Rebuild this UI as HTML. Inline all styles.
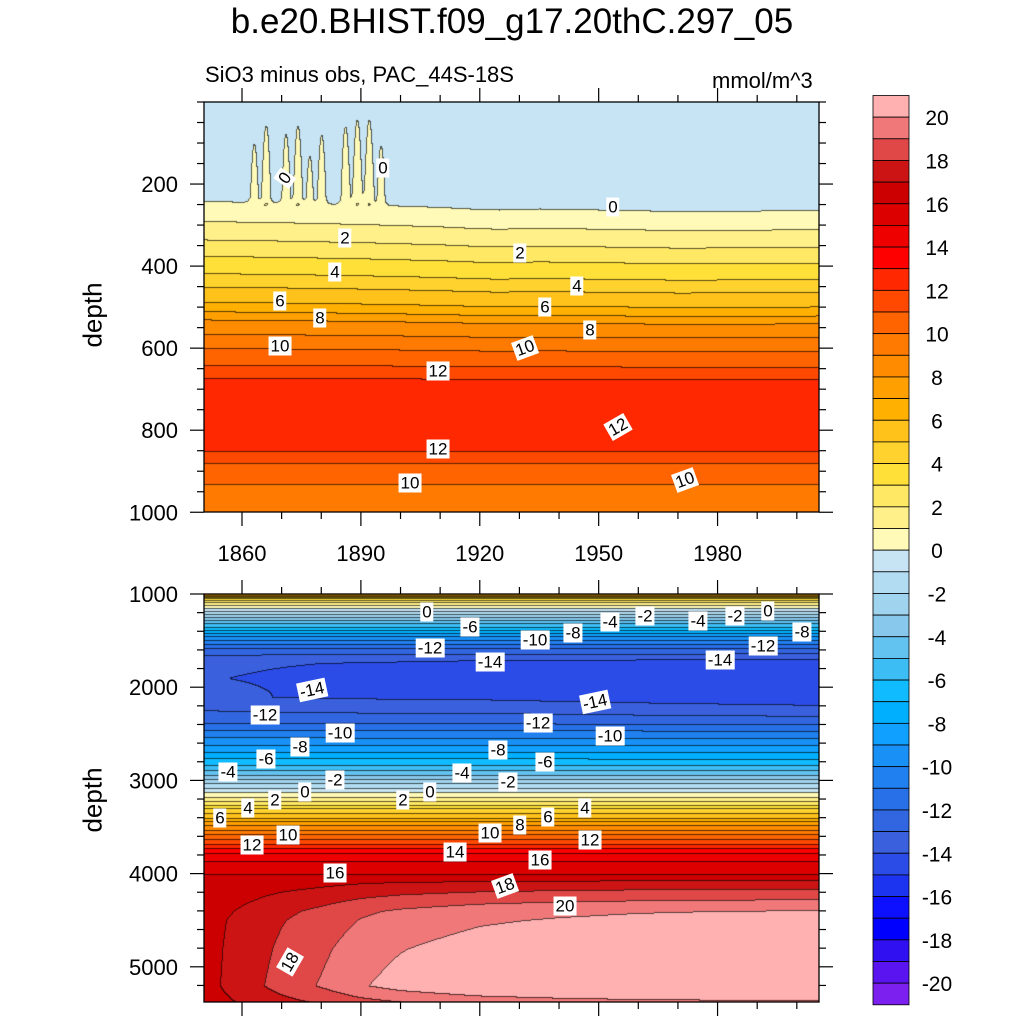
<!DOCTYPE html>
<html><head><meta charset="utf-8"><title>b.e20.BHIST.f09_g17.20thC.297_05</title>
<style>
html,body{margin:0;padding:0;background:#fff;}
#root{position:relative;width:1024px;height:1024px;overflow:hidden;font-family:"Liberation Sans",sans-serif;color:#000;}
canvas{position:absolute;}
.t{position:absolute;white-space:nowrap;}
.lab{position:absolute;background:#fff;font-size:17px;line-height:19px;padding:0 2px;transform:translate(-50%,-50%);white-space:nowrap;}
</style></head>
<body>
<div id="root">
<div class="t" style="left:0;width:1024px;top:2px;text-align:center;font-size:35px;">b.e20.BHIST.f09_g17.20thC.297_05</div>
<div class="t" style="left:205px;top:62px;font-size:22px;">SiO3 minus obs, PAC_44S-18S</div>
<div class="t" style="left:712px;top:68px;font-size:22px;">mmol/m^3</div>
<div class="t" style="left:93px;top:315px;font-size:26px;transform:translate(-50%,-50%) rotate(-90deg);">depth</div>
<div class="t" style="left:93px;top:800px;font-size:26px;transform:translate(-50%,-50%) rotate(-90deg);">depth</div>
<canvas id="cTop" width="615" height="410" style="left:204px;top:102px;"></canvas>
<canvas id="cBot" width="615" height="408" style="left:204px;top:594px;"></canvas>
<svg id="axes" width="1024" height="1024" style="position:absolute;left:0;top:0;"></svg>
<div id="labels"></div>
</div>
<script>
// ---- data ----
const colorLevels = ["#7C20F0","#5A14F0","#3010F0","#0000FF","#0C10FF","#1C34F0","#2C4CE8","#3A60DD","#3266E0","#2870E8","#2080F0","#1890F5","#10A0FF","#00B0FF","#10BCFF","#3CBEF5","#62C2F0","#88C8EC","#A0D4EE","#B2DCF2","#C6E4F4","#FFFAB8","#FFF08A","#FFE864","#FFE038","#FFD22E","#FFC21A","#FFB000","#FFA000","#FF8C00","#FF7A00","#FF6400","#FF4800","#FF2800","#FF0000","#EE0000","#DD0000","#CC0000","#CC1414","#E04848","#F07878","#FFB0B0"];
const colorbarTicks = [20,18,16,14,12,10,8,6,4,2,0,-2,-4,-6,-8,-10,-12,-14,-16,-18,-20];
const yearTicks = [1860,1890,1920,1950,1980];
const topDepthTicks = [200,400,600,800,1000];
const botDepthTicks = [1000,2000,3000,4000,5000];
// upper ocean profile (value at depth, year 1850)
const topDepths = [0,230,245,290,335,375,417,450,487,510,530,565,600,640,672,700,760,820,850,880,930,1000];
const topVals   = [-0.6,-0.3,0.1,1.0,2.0,3.0,4.0,5.0,6.0,7.0,8.0,9.0,10.0,11.0,12.0,12.3,12.6,12.3,12.0,11.0,10.0,9.3];
// downward shift of upper contours over time (m)
const shiftYears = [1850,1870,1890,1910,1920,1925,1935,1950,1970,1990,2005];
const shiftVals  = [0,5,12,22,30,32,28,32,38,36,34];
// near-surface positive excursions
const spikeYears = [1863,1866,1871,1874,1877,1880,1886,1889,1892,1895];
const spikeAmps  = [0.6,0.8,0.7,0.8,0.5,0.7,0.8,0.9,0.9,0.6];
// deep ocean profile
const botDepths = [1000,1060,1130,1200,1280,1350,1450,1580,1710,1900,2100,2350,2500,2660,2800,2920,3000,3080,3140,3220,3300,3400,3480,3580,3680,3780,3900,4000,4200,4500,5200,5400];
const botVals   = [8,3,0.5,-1.5,-4,-6,-9,-12,-14,-14.3,-14.2,-12.5,-10.5,-8.5,-6.5,-4.5,-2.5,-1,0.3,2,4,6,8,10,12,14,15.5,16,16.3,16.6,16.6,16.5];
// bottom-water warming weight by depth and amplitude by year
const warmDepths = [4000,4100,4230,4400,4800,5200,5400];
const warmWeight = [0,0.25,0.45,0.7,0.88,1.0,0.6];
const warmYears  = [1850,1860,1870,1880,1890,1900,1910,1920,1940,1960,1980,2005];
const warmAmp    = [0.0,0.9,1.8,2.5,3.3,3.8,4.1,4.4,4.7,4.9,5.0,5.1];
// mid-depth (-14 core) anomaly by year
const midYears = [1850,1880,1920,1960,2005];
const midAnom  = [0.4,0.1,0.0,-0.3,-0.6];

// ---- axes ----
const xOf = yr => 242 + (yr - 1860) * 3.963;
const yTop = d => 102 + d * 0.41025;
const yBot = d => 594 + (d - 1000) * 0.0932;
const yrOfX = x => 1860 + (x - 242) / 3.963;

function interp(xs, ys, x){
  if (x <= xs[0]) return ys[0];
  if (x >= xs[xs.length-1]) return ys[ys.length-1];
  for (let i=1;i<xs.length;i++){ if (x <= xs[i]){ const t=(x-xs[i-1])/(xs[i]-xs[i-1]); return ys[i-1]+t*(ys[i]-ys[i-1]); } }
}
function topField(d, yr){
  const sh = interp(shiftYears, shiftVals, yr) * Math.max(0, 1 - d/750);
  let v = interp(topDepths, topVals, d - sh);
  if (d < 250){
    let s = 0;
    for (let i=0;i<spikeYears.length;i++){ const z=(yr-spikeYears[i])/1.1; s += spikeAmps[i]*Math.exp(-z*z); }
    v += s * (0.5 + 0.7*d/250);
  }
  return v;
}
function botField(d, yr){
  let v = interp(botDepths, botVals, d);
  v += interp(warmYears, warmAmp, yr) * interp(warmDepths, warmWeight, d);
  const g = (d - 2000)/300;
  v += interp(midYears, midAnom, yr) * Math.exp(-g*g);
  return v;
}
function levelIdx(v){ if (v < -20) return 0; if (v >= 20) return 41; return Math.floor(v) + 21; }
function hex(c){ return [parseInt(c.substr(1,2),16),parseInt(c.substr(3,2),16),parseInt(c.substr(5,2),16)]; }
const rgb = colorLevels.map(hex);

function drawField(id, left, top, w, h, depthOfY, field){
  const cv = document.getElementById(id), ctx = cv.getContext('2d');
  const img = ctx.createImageData(w, h);
  const idx = new Int16Array(w*h);
  for (let j=0;j<h;j++){ const d = depthOfY(top + j + 0.5);
    for (let i=0;i<w;i++){ idx[j*w+i] = levelIdx(field(d, yrOfX(left + i + 0.5))); } }
  for (let j=0;j<h;j++) for (let i=0;i<w;i++){
    const k=j*w+i, c=rgb[idx[k]]; let line=false;
    if (i>0 && idx[k-1]!==idx[k]) line=true;
    if (j>0 && idx[k-w]!==idx[k]) line=true;
    const p=k*4;
    if (line){ img.data[p]=c[0]*0.35; img.data[p+1]=c[1]*0.35; img.data[p+2]=c[2]*0.35; }
    else { img.data[p]=c[0]; img.data[p+1]=c[1]; img.data[p+2]=c[2]; }
    img.data[p+3]=255;
  }
  ctx.putImageData(img,0,0);
}
drawField('cTop', 204, 102, 615, 410, y => (y-102)/0.41025, topField);
drawField('cBot', 204, 594, 615, 408, y => 1000 + (y-594)/0.0932, botField);

// ---- svg axes ----
const svg = document.getElementById('axes'), NS='http://www.w3.org/2000/svg';
function mk(tag, attrs, name){ const e=document.createElementNS(NS,tag); for (const k in attrs) e.setAttribute(k,attrs[k]);
  
  
  svg.appendChild(e); return e; }
function line(x1,y1,x2,y2,name){ return mk('line',{x1,y1,x2,y2,stroke:'#000','stroke-width':1.2},name); }
function text(x,y,s,anchor,size,name){ const t=mk('text',{x,y,'text-anchor':anchor,'font-size':size,'font-family':'Liberation Sans, sans-serif'},name); t.textContent=s; return t; }

const L=204, R=819;
const panels = [{t:102,b:512,yf:yTop,ticks:topDepthTicks,minor:50,dmin:0,dmax:1000,name:'top'},
                {t:594,b:1002,yf:yBot,ticks:botDepthTicks,minor:200,dmin:1000,dmax:5378,name:'bottom'}];
panels.forEach(p=>{
  mk('rect',{x:L,y:p.t,width:R-L,height:p.b-p.t,fill:'none',stroke:'#000','stroke-width':1.3},p.name+'-panel-frame');
  for (let yr=1860; yr<=2000; yr+=10){
    const x=xOf(yr), maj = yearTicks.includes(yr);
    const len = maj?14:7;
    line(x,p.t,x,p.t-len,p.name+'-top-tick');
    line(x,p.b,x,p.b+len,p.name+'-bottom-tick');
  }
  for (let d=Math.ceil(p.dmin/p.minor)*p.minor; d<=p.dmax; d+=p.minor){
    const y=p.yf(d), maj=p.ticks.includes(d), len=maj?14:7;
    if (y<p.t-0.5||y>p.b+0.5) continue;
    line(L,y,L-len,y,p.name+'-left-tick');
    line(R,y,R+len,y,p.name+'-right-tick');
  }
  p.ticks.forEach(d=>{ text(L-26,p.yf(d)+8,String(d),'end',22,p.name+'-depth-tick-label'); });
});
yearTicks.forEach(yr=>{ text(xOf(yr),561,String(yr),'middle',22,'year-tick-label'); });

// colorbar
const cbTop=95.5, cbH=21.65, cbL=873, cbW=36;
for (let i=0;i<42;i++){
  mk('rect',{x:cbL,y:cbTop+i*cbH,width:cbW,height:cbH,fill:colorLevels[41-i],stroke:'#000','stroke-width':0.8},'colorbar-box');
}
colorbarTicks.forEach(v=>{
  const y = cbTop + (21 - v)*cbH;
  text(937,y+8,String(v),'middle',21,'colorbar-tick-label');
});

// contour labels
const contourLabels = [
 [285,178,"0",-55],[383,168,"0",0],[613,207,"0",0],[345,238,"2",0],[520,253,"2",0],[335,272,"4",0],[577,286,"4",0],
 [280,301,"6",0],[545,307,"6",0],[320,318,"8",0],[590,330,"8",0],[280,346,"10",0],[525,348,"10",-20],[438,371,"12",0],
 [618,427,"12",-30],[438,449,"12",0],[410,483,"10",0],[685,480,"10",-20],
 [427,612,"0",0],[470,627,"-6",0],[430,648,"-12",0],[490,662,"-14",0],[535,640,"-10",0],[573,633,"-8",0],[610,622,"-4",0],
 [645,616,"-2",0],[698,621,"-4",0],[735,616,"-2",0],[768,611,"0",0],[802,632,"-8",0],[763,646,"-12",0],[720,660,"-14",0],
 [312,690,"-14",-12],[265,715,"-12",0],[340,733,"-10",0],[300,747,"-8",0],[266,759,"-6",0],[228,772,"-4",0],[335,780,"-2",0],
 [305,792,"0",0],[275,800,"2",0],[248,808,"4",0],[220,818,"6",0],[288,835,"10",0],[252,845,"12",0],[335,873,"16",0],
 [290,962,"18",-60],[538,723,"-12",0],[498,750,"-8",0],[545,762,"-6",0],[462,773,"-4",0],[508,782,"-2",0],[403,800,"2",0],
 [430,792,"0",0],[490,833,"10",0],[520,825,"8",0],[548,817,"6",0],[585,808,"4",0],[590,840,"12",0],[455,852,"14",0],
 [540,860,"16",0],[505,886,"18",-20],[565,906,"20",0],[595,702,"-14",-12],[610,736,"-10",0]
];
const holder=document.getElementById('labels');
contourLabels.forEach(c=>{
  const el=document.createElement('div');
  el.className='lab';
  
  
  el.style.left=c[0]+'px'; el.style.top=c[1]+'px';
  el.style.transform='translate(-50%,-50%) rotate('+c[3]+'deg)';
  el.textContent=c[2];
  holder.appendChild(el);
});
</script>
</body></html>
